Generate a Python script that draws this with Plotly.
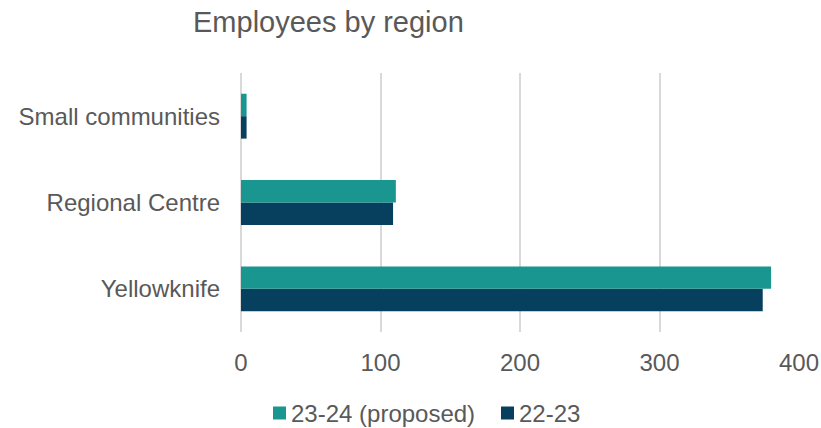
import plotly.graph_objects as go

# Data
regions = ["Yellowknife", "Regional Centre", "Small communities"]
series_names = ["22-23", "23-24 (proposed)"]
employees_2223 = [374, 109, 4]
employees_2324 = [380, 111, 4]
x_ticks = [0, 100, 200, 300, 400]

TEAL = "#1A9690"
NAVY = "#073F5F"
TEXT = "#595959"
GRID = "#D9D9D9"
FONT = "Arial, Liberation Sans, sans-serif"

W, H = 821, 428
L, R, T, B = 241, 22, 73, 96

fig = go.Figure()
fig.add_trace(go.Bar(y=regions, x=employees_2223, name=series_names[0],
                     orientation="h", marker=dict(color=NAVY, line=dict(width=0))))
fig.add_trace(go.Bar(y=regions, x=employees_2324, name=series_names[1],
                     orientation="h", marker=dict(color=TEAL, line=dict(width=0))))

fig.update_layout(
    width=W, height=H,
    margin=dict(l=L, r=R, t=T, b=B, pad=0, autoexpand=False),
    paper_bgcolor="white", plot_bgcolor="white",
    barmode="group", bargap=0.48, bargroupgap=0,
    showlegend=False,
    font=dict(family=FONT, color=TEXT, size=24),
    title=dict(text="Employees by region", x=193 / W, xanchor="left",
               xref="container", y=1 - 22 / H, yref="container", yanchor="middle",
               font=dict(size=29, color=TEXT, family=FONT)),
)
fig.update_xaxes(range=[0, 400], tickvals=x_ticks, showgrid=True, gridcolor=GRID,
                 gridwidth=1.5, zeroline=True, zerolinecolor=GRID, zerolinewidth=1.5,
                 showline=False, ticks="", ticklabelstandoff=14, automargin=False,
                 tickfont=dict(size=24, color=TEXT))
fig.update_yaxes(categoryorder="array", categoryarray=regions, showgrid=False,
                 showline=False, ticks="", ticklabelstandoff=20, automargin=False,
                 tickfont=dict(size=24, color=TEXT))

# Legend drawn below the plot: colored square followed by series label
pw, ph = W - L - R, H - T - B
def px_x(p):
    return (p - L) / pw
def px_y(p):
    return (H - B - p) / ph

legend_items = [(series_names[1], TEAL, 273), (series_names[0], NAVY, 501)]
for name, color, x0 in legend_items:
    fig.add_shape(type="rect", xref="paper", yref="paper",
                  x0=px_x(x0), x1=px_x(x0 + 13), y0=px_y(413 - 6.5), y1=px_y(413 + 6.5),
                  fillcolor=color, line=dict(width=0))
    fig.add_annotation(text=name, xref="paper", yref="paper", x=px_x(x0 + 16), y=px_y(413),
                       xanchor="left", yanchor="middle", showarrow=False,
                       font=dict(size=24, color=TEXT, family=FONT))

fig.write_html("out.html")
